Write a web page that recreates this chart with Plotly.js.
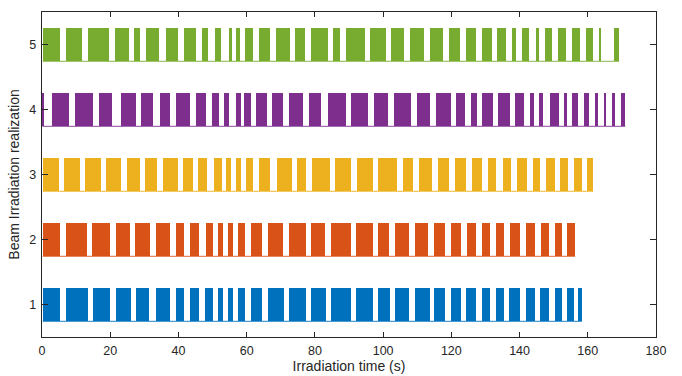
<!DOCTYPE html>
<html>
<head>
<meta charset="utf-8">
<script src="https://cdn.plot.ly/plotly-3.0.1.min.js"></script>
<style>html,body{margin:0;padding:0;background:#fff;}#chart{width:682px;height:376px;}</style>
</head>
<body>
<div id="chart"></div>
<script>
// Beam-on intervals [start, end] in seconds, per realization
const row1 = [[0.2,5.3],[7.0,13.4],[15.0,19.9],[21.7,26.1],[27.6,31.5],[33.3,37.5],[39.2,41.6],[43.4,46.1],[47.9,50.1],[51.7,53.2],[54.5,55.9],[57.5,59.5],[61.3,64.4],[66.3,70.8],[72.4,77.3],[78.9,83.3],[84.8,90.6],[92.1,97.0],[98.5,102.1],[103.5,107.7],[109.4,113.6],[114.8,118.2],[119.9,122.8],[124.3,127.3],[128.9,131.4],[133.1,135.3],[136.9,140.2],[141.9,144.6],[146.0,148.5],[150.4,152.5],[154.0,155.9],[157.0,158.3]];
const row2 = [[0.2,5.3],[6.9,13.1],[14.7,19.9],[21.7,25.8],[27.4,31.7],[33.3,37.5],[39.3,41.6],[43.4,46.1],[48.0,50.1],[51.7,53.0],[54.6,55.9],[57.6,59.5],[61.3,64.4],[66.3,70.7],[72.4,77.3],[78.9,83.0],[84.8,90.6],[92.1,97.0],[98.5,101.8],[103.5,107.6],[109.4,113.1],[114.8,118.2],[119.9,122.9],[124.5,127.3],[129.0,131.4],[133.1,135.5],[137.2,140.2],[141.9,144.6],[146.3,148.5],[150.4,152.5],[154.0,156.3]];
const row3 = [[0.2,5.1],[6.5,11.1],[12.7,17.3],[18.8,23.2],[24.8,28.7],[30.2,33.8],[35.6,39.8],[41.4,44.3],[45.8,48.5],[50.4,52.7],[54.0,55.4],[57.0,58.3],[59.8,61.8],[63.6,66.9],[68.8,73.2],[74.9,77.3],[79.1,84.3],[85.9,90.6],[92.3,96.9],[98.4,104.0],[105.7,108.8],[110.4,114.2],[116.2,119.4],[121.1,124.3],[126.1,129.0],[130.8,133.1],[135.1,137.5],[139.2,142.2],[144.0,146.0],[147.8,150.4],[151.9,154.3],[156.0,158.2],[159.8,161.6]];
const row4 = [[0.1,0.5],[2.8,8.0],[9.7,15.0],[16.8,20.4],[23.1,27.6],[29.0,32.6],[34.6,37.5],[39.3,43.4],[45.2,48.0],[49.8,52.0],[53.4,54.9],[56.9,58.4],[59.2,61.2],[62.8,65.9],[67.5,70.6],[72.4,76.6],[78.3,81.7],[83.7,89.1],[90.6,95.5],[97.2,101.4],[103.2,108.1],[109.9,113.8],[115.5,119.9],[121.4,124.0],[125.8,127.5],[129.0,132.1],[133.6,137.2],[138.7,141.3],[143.1,144.2],[145.7,146.9],[149.0,151.6],[152.9,154.0],[155.5,157.2],[158.9,160.4],[162.2,163.0],[164.7,165.4],[167.2,168.0],[169.8,171.0]];
const row5 = [[0.2,5.3],[7.0,11.6],[13.6,19.6],[21.4,25.6],[27.0,28.7],[30.4,34.4],[36.3,39.8],[41.6,45.1],[46.9,48.6],[50.7,52.5],[54.8,55.6],[56.9,57.9],[59.5,61.8],[63.6,66.9],[68.6,72.7],[74.2,77.1],[78.9,83.8],[85.4,87.3],[89.1,94.7],[96.2,100.8],[102.3,106.2],[107.9,112.0],[113.8,117.5],[119.4,122.6],[124.3,127.2],[129.0,131.9],[133.4,136.0],[137.8,139.0],[140.8,142.8],[144.7,145.7],[147.5,149.6],[151.3,153.7],[155.4,157.8],[159.5,161.6],[163.3,163.9],[167.8,169.2]];

const rows = [row1, row2, row3, row4, row5];
const rowLevels = [1, 2, 3, 4, 5];
const colors = ['#0072BD', '#D95319', '#EDB120', '#7E2F8E', '#77AC30'];
const xTicks = [0, 20, 40, 60, 80, 100, 120, 140, 160, 180];
const yTicks = [1, 2, 3, 4, 5];
const halfH = 0.26;

const traces = [];
rows.forEach((r, i) => {
  const lvl = rowLevels[i];
  const lastEnd = r[r.length - 1][1];
  // baseline (beam-off level)
  traces.push({
    type: 'scatter', mode: 'lines',
    x: [r[0][0], lastEnd], y: [lvl - halfH, lvl - halfH],
    line: {color: colors[i], width: 1.2},
    opacity: 0.7, hoverinfo: 'skip', showlegend: false
  });
  traces.push({
    type: 'bar', orientation: 'h',
    y: r.map(() => lvl),
    base: r.map(p => p[0]),
    x: r.map(p => p[1] - p[0]),
    width: 2 * halfH,
    marker: {color: colors[i], line: {width: 0}},
    showlegend: false, hoverinfo: 'skip'
  });
});

const fam = 'Liberation Sans, Arial, sans-serif';
const tickFont = {family: fam, size: 12.5, color: '#262626'};
const titleFont = {family: fam, size: 14, color: '#262626'};
const layout = {
  width: 682, height: 376,
  margin: {l: 42, r: 26, t: 12, b: 39, pad: 0},
  paper_bgcolor: '#fff', plot_bgcolor: '#fff',
  barmode: 'overlay', bargap: 0,
  font: tickFont,
  showlegend: false,
  xaxis: {
    range: [0, 180], tickvals: xTicks, ticktext: xTicks.map(String),
    ticks: 'inside', ticklen: 5, tickwidth: 1.2, tickcolor: '#262626',
    showline: true, linecolor: '#262626', linewidth: 1.3, mirror: 'ticks',
    showgrid: false, zeroline: false,
    tickfont: tickFont, ticklabelstandoff: 2,
    title: {text: 'Irradiation time (s)', font: titleFont, standoff: 2}
  },
  yaxis: {
    range: [0.5, 5.5], tickvals: yTicks, ticktext: yTicks.map(String),
    ticks: 'inside', ticklen: 6, tickwidth: 1.2, tickcolor: '#262626',
    showline: true, linecolor: '#262626', linewidth: 1.3, mirror: 'ticks',
    showgrid: false, zeroline: false,
    tickfont: tickFont, ticklabelstandoff: 2,
    title: {text: 'Beam Irradiation realization', font: titleFont, standoff: 6}
  }
};

Plotly.newPlot('chart', traces, layout, {staticPlot: true, displayModeBar: false});
</script>
</body>
</html>
